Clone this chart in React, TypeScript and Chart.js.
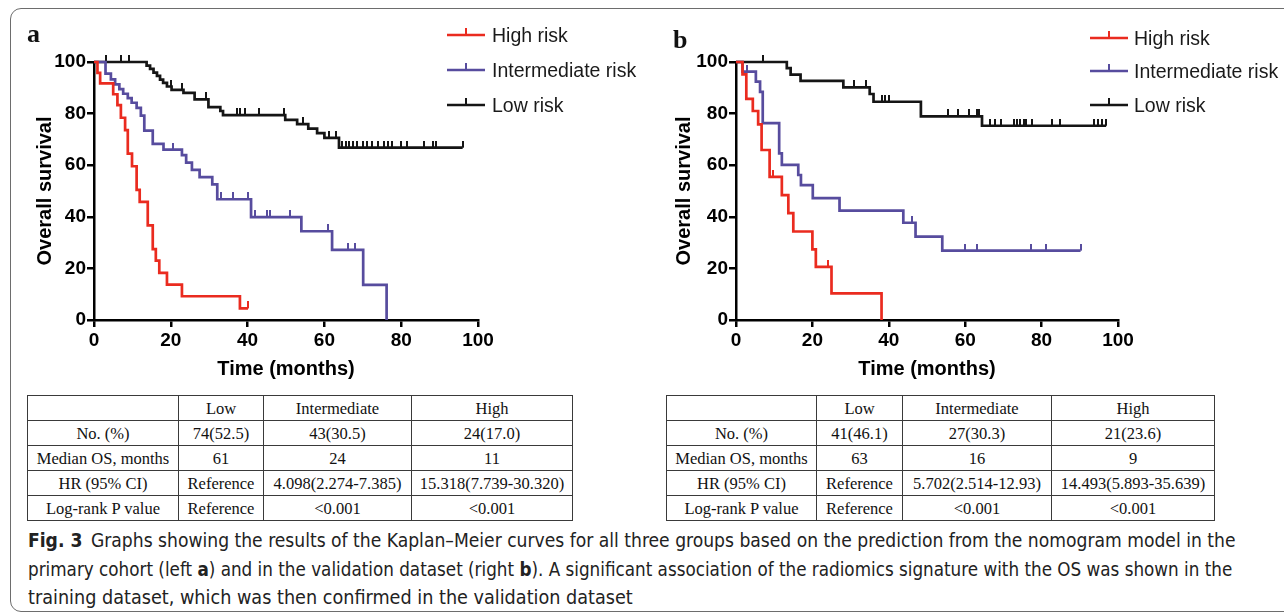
import React, { useEffect, useLayoutEffect, useRef } from "react";
import { Chart, registerables } from "chart.js";

Chart.register(...registerables);

const RED = "#ea2b1f";
const PURPLE = "#574c9e";
const BLACK = "#151515";
const SANS = '"Liberation Sans", Arial, Helvetica, sans-serif';
const SERIF = '"Liberation Serif", "Times New Roman", serif';

const seriesNames = ["High risk", "Intermediate risk", "Low risk"];
const xAxisTitle = "Time (months)";
const yAxisTitle = "Overall survival";

// ---------- Panel a (primary cohort) ----------
const aHighT = [0, 0.9, 1.6, 5.0, 6.1, 7.0, 8.1, 8.8, 9.9, 11.1, 11.9, 14.0, 15.3, 16.1, 17.0, 19.0, 22.9, 38.0, 40.1];
const aHighS = [100, 95.8, 91.7, 87.5, 83.3, 78.4, 73.6, 64.5, 59.6, 50.4, 45.8, 36.7, 27.5, 23.0, 18.3, 13.7, 9.2, 4.5, 4.5];
const aHighCens = [40.1];

const aMidT = [0, 3.0, 4.4, 5.5, 6.6, 7.6, 8.8, 9.8, 11.1, 12.2, 13.1, 15.3, 18.1, 22.9, 24.0, 25.5, 27.5, 30.8, 32.1, 40.9, 54.0, 62.0, 70.1, 76.2];
const aMidS = [100, 95.5, 93.3, 91.3, 89.5, 87.7, 86.0, 84.2, 82.2, 79.2, 73.4, 68.3, 66.0, 63.9, 61.0, 58.2, 55.4, 52.6, 46.8, 39.9, 34.4, 27.2, 13.6, 0];
const aMidCens = [20.7, 33.0, 36.1, 40.0, 41.8, 45.0, 45.9, 51.0, 60.9, 66.1, 67.9];

const aLowT = [0, 13.7, 14.6, 15.5, 16.4, 17.2, 18.0, 19.0, 20.2, 23.3, 26.2, 29.8, 32.9, 33.6, 49.8, 52.9, 55.8, 58.1, 60.0, 63.8, 96.0];
const aLowS = [100, 98.6, 97.3, 95.9, 94.6, 93.2, 91.9, 90.5, 89.2, 88.0, 85.5, 82.5, 81.0, 79.4, 77.6, 75.9, 74.2, 72.4, 70.6, 66.8, 66.8];
const aLowCens = [3.0, 7.0, 9.0, 20.0, 22.9, 29.1, 37.2, 38.1, 39.2, 43.0, 49.4, 54.3, 61.2, 62.9, 64.5, 65.5, 66.5, 67.5, 68.5, 70.0, 71.0, 72.5, 74.0, 75.5, 76.5, 77.7, 80.0, 81.6, 86.0, 88.2, 89.0, 96.0];

// ---------- Panel b (validation dataset) ----------
const bHighT = [0, 1.7, 2.7, 4.4, 5.8, 6.7, 8.8, 12.0, 13.7, 15.0, 20.0, 20.9, 25.0, 38.1];
const bHighS = [100, 95.2, 85.7, 81.0, 75.8, 65.9, 55.5, 48.4, 41.4, 34.3, 27.4, 20.6, 10.3, 0];
const bHighCens = [9.7, 24.2];

const bMidT = [0, 1.7, 5.2, 6.3, 7.0, 11.3, 12.0, 16.3, 17.0, 20.1, 27.1, 43.8, 47.0, 54.0, 90.2];
const bMidS = [100, 96.3, 92.4, 88.4, 76.3, 64.6, 60.1, 56.2, 52.3, 47.2, 42.4, 37.7, 32.3, 26.9, 26.9];
const bMidCens = [2.9, 46.1, 60.0, 63.2, 77.1, 81.2, 90.2];

const bLowT = [0, 13.3, 14.3, 16.9, 28.1, 35.0, 36.0, 48.4, 64.4, 96.9];
const bLowS = [100, 97.6, 95.1, 92.7, 90.2, 87.6, 84.6, 78.9, 75.3, 75.3];
const bLowCens = [7.0, 31.0, 34.0, 38.2, 39.0, 40.0, 55.5, 58.2, 60.9, 63.0, 63.6, 66.6, 67.9, 69.5, 72.8, 73.5, 74.4, 75.3, 76.0, 77.4, 82.8, 84.7, 93.8, 94.7, 95.8, 96.9];

// ---------- Tables ----------
const tableHeader = ["", "Low", "Intermediate", "High"];
const rowLabels = ["No. (%)", "Median OS, months", "HR (95% CI)", "Log-rank P value"];
const aNo = ["74(52.5)", "43(30.5)", "24(17.0)"];
const aMedian = ["61", "24", "11"];
const aHR = ["Reference", "4.098(2.274-7.385)", "15.318(7.739-30.320)"];
const aP = ["Reference", "<0.001", "<0.001"];
const bNo = ["41(46.1)", "27(30.3)", "21(23.6)"];
const bMedian = ["63", "16", "9"];
const bHR = ["Reference", "5.702(2.514-12.93)", "14.493(5.893-35.639)"];
const bP = ["Reference", "<0.001", "<0.001"];

type Series = { name: string; color: string; t: number[]; s: number[]; cens: number[] };

function levelAt(ts: number[], ss: number[], t: number) {
  let v = ss[0];
  for (let i = 0; i < ts.length; i++) if (ts[i] <= t + 1e-9) v = ss[i];
  return v;
}

function tickImage(color: string): HTMLCanvasElement {
  const c = document.createElement("canvas");
  c.width = 2;
  c.height = 14;
  const g = c.getContext("2d")!;
  g.fillStyle = color;
  g.fillRect(0, 0, 2, 7);
  return c;
}

const CH = 390;

function KMChart(props: { series: Series[]; left: number; width: number; padRight: number; yTitlePad: number }) {
  const ref = useRef<HTMLCanvasElement>(null);
  useEffect(() => {
    const datasets: any[] = [];
    props.series.forEach((se) => {
      datasets.push({
        label: se.name,
        data: se.t.map((t, i) => ({ x: t, y: se.s[i] })),
        borderColor: se.color,
        backgroundColor: se.color,
        borderWidth: 2.7,
        stepped: "before",
        pointRadius: 0,
        pointHoverRadius: 0,
        fill: false,
        clip: false,
        borderCapStyle: "butt",
        borderJoinStyle: "miter",
      });
    });
    props.series.forEach((se) => {
      datasets.push({
        label: se.name + " (censored)",
        data: se.cens.map((t) => ({ x: t, y: levelAt(se.t, se.s, t) })),
        showLine: false,
        pointStyle: tickImage(se.color),
        pointRadius: 3,
        pointHoverRadius: 3,
        borderColor: se.color,
        backgroundColor: se.color,
        clip: false,
      });
    });
    const tickFont = { family: SANS, size: 19, weight: "bold" as const };
    const titleFont = { family: SANS, size: 20, weight: "bold" as const };
    const chart = new Chart(ref.current!, {
      type: "line",
      data: { datasets },
      options: {
        animation: false,
        responsive: false,
        events: [],
        layout: { padding: { left: 0, top: 62, right: props.padRight, bottom: 0 } },
        plugins: { legend: { display: false }, tooltip: { enabled: false } },
        scales: {
          x: {
            type: "linear",
            min: 0,
            max: 100,
            ticks: { stepSize: 20, color: "#000", font: tickFont, padding: 2, maxRotation: 0 },
            grid: { display: true, drawOnChartArea: false, drawTicks: true, tickLength: 7, color: "#000", lineWidth: 2.5 },
            border: { display: true, color: "#000", width: 2.5 },
            title: { display: true, text: xAxisTitle, color: "#000", font: titleFont, padding: { top: 0, bottom: 9 } },
            afterFit: (s: any) => {
              s.height = 70;
            },
          },
          y: {
            type: "linear",
            min: 0,
            max: 100,
            ticks: { stepSize: 20, color: "#000", font: tickFont, padding: 1 },
            grid: { display: true, drawOnChartArea: false, drawTicks: true, tickLength: 7, color: "#000", lineWidth: 2.5 },
            border: { display: true, color: "#000", width: 2.5 },
            title: { display: true, text: yAxisTitle, color: "#000", font: titleFont, padding: { top: props.yTitlePad, bottom: 0 } },
            afterFit: (s: any) => {
              s.width = 94;
            },
          },
        },
      } as any,
    });
    return () => chart.destroy();
  }, []);
  return (
    <canvas
      ref={ref}
      width={props.width}
      height={CH}
      style={{ position: "absolute", left: props.left, top: 0, width: props.width, height: CH }}
    />
  );
}

function Legend(props: { symLeft: number; textLeft: number; rows: number[]; colors: string[] }) {
  return (
    <>
      {seriesNames.map((n, i) => (
        <div key={n} style={{ position: "absolute", top: props.rows[i] - 12, left: 0, height: 24 }}>
          <svg width={38} height={24} style={{ position: "absolute", left: props.symLeft, top: 0 }}>
            <line x1={0} y1={12} x2={38} y2={12} stroke={props.colors[i]} strokeWidth={2.7} />
            <line x1={19} y1={5} x2={19} y2={12} stroke={props.colors[i]} strokeWidth={2} />
          </svg>
          <div
            style={{
              position: "absolute",
              left: props.textLeft,
              top: 0,
              height: 24,
              lineHeight: "24px",
              fontFamily: SANS,
              fontSize: 19.5,
              color: "#1a1a1a",
              whiteSpace: "nowrap",
            }}
          >
            {n}
          </div>
        </div>
      ))}
    </>
  );
}

function DataTable(props: { left: number; widths: number[]; rows: string[][] }) {
  const all = [tableHeader, ...props.rows];
  return (
    <table
      style={{
        position: "absolute",
        left: props.left,
        top: 395,
        borderCollapse: "collapse",
        tableLayout: "fixed",
        width: props.widths.reduce((a, b) => a + b, 0),
        fontFamily: SERIF,
        fontSize: 16.5,
        color: "#111",
      }}
    >
      <colgroup>
        {props.widths.map((w, i) => (
          <col key={i} style={{ width: w }} />
        ))}
      </colgroup>
      <tbody>
        {all.map((r, ri) => (
          <tr key={ri} style={{ height: 25 }}>
            {r.map((c, ci) => (
              <td
                key={ci}
                style={{
                  border: "1px solid #3a3a3a",
                  padding: 0,
                  textAlign: "center",
                  verticalAlign: "middle",
                  lineHeight: "23px",
                  whiteSpace: "nowrap",
                }}
              >
                {c}
              </td>
            ))}
          </tr>
        ))}
      </tbody>
    </table>
  );
}

function FitLine(props: { top: number; width: number; children: React.ReactNode }) {
  const ref = useRef<HTMLDivElement>(null);
  useLayoutEffect(() => {
    const fit = () => {
      const el = ref.current;
      if (!el) return;
      el.style.transform = "none";
      const w = el.offsetWidth;
      if (w > 0) el.style.transform = `scaleX(${props.width / w})`;
    };
    fit();
    if ((document as any).fonts && (document as any).fonts.ready) (document as any).fonts.ready.then(fit);
  }, []);
  return (
    <div
      ref={ref}
      style={{
        position: "absolute",
        left: 28,
        top: props.top,
        display: "inline-block",
        whiteSpace: "nowrap",
        transformOrigin: "0 0",
        fontFamily: '"Liberation Sans Narrow", "DejaVu Sans Condensed", "Liberation Sans", Arial, sans-serif',
        fontSize: 19,
        lineHeight: "20px",
        color: "#222",
      }}
    >
      {props.children}
    </div>
  );
}

export default function App() {
  const seriesA: Series[] = [
    { name: seriesNames[0], color: RED, t: aHighT, s: aHighS, cens: aHighCens },
    { name: seriesNames[1], color: PURPLE, t: aMidT, s: aMidS, cens: aMidCens },
    { name: seriesNames[2], color: BLACK, t: aLowT, s: aLowS, cens: aLowCens },
  ];
  const seriesB: Series[] = [
    { name: seriesNames[0], color: RED, t: bHighT, s: bHighS, cens: bHighCens },
    { name: seriesNames[1], color: PURPLE, t: bMidT, s: bMidS, cens: bMidCens },
    { name: seriesNames[2], color: BLACK, t: bLowT, s: bLowS, cens: bLowCens },
  ];
  const colors = [RED, PURPLE, BLACK];
  return (
    <div style={{ position: "fixed", left: 0, top: 0, width: 1284, height: 613, overflow: "hidden", background: "#fff" }}>
      <div
        style={{
          position: "absolute",
          left: 10,
          top: 8,
          width: 1320,
          height: 604,
          border: "1.5px solid #6d6d6d",
          borderRadius: 11,
          boxSizing: "border-box",
        }}
      />
      <KMChart series={seriesA} left={0} width={640} padRight={162} yTitlePad={33.5} />
      <KMChart series={seriesB} left={642} width={642} padRight={166} yTitlePad={30.5} />
      <div style={{ position: "absolute", left: 27, top: 21, fontFamily: SERIF, fontWeight: "bold", fontSize: 26, lineHeight: "26px", color: "#111" }}>a</div>
      <div style={{ position: "absolute", left: 673, top: 27, fontFamily: SERIF, fontWeight: "bold", fontSize: 26, lineHeight: "26px", color: "#111" }}>b</div>
      <Legend symLeft={447} textLeft={492} rows={[35, 70, 105]} colors={colors} />
      <Legend symLeft={1090} textLeft={1134} rows={[38, 71, 105]} colors={colors} />
      <DataTable
        left={27}
        widths={[151, 85, 148, 161]}
        rows={[
          [rowLabels[0], ...aNo],
          [rowLabels[1], ...aMedian],
          [rowLabels[2], ...aHR],
          [rowLabels[3], ...aP],
        ]}
      />
      <DataTable
        left={666}
        widths={[150, 86, 149, 163]}
        rows={[
          [rowLabels[0], ...bNo],
          [rowLabels[1], ...bMedian],
          [rowLabels[2], ...bHR],
          [rowLabels[3], ...bP],
        ]}
      />
      <FitLine top={530} width={1207}>
        <b>Fig. 3</b>
        {"\u2002Graphs showing the results of the Kaplan\u2013Meier curves for all three groups based on the prediction from the nomogram model in the"}
      </FitLine>
      <FitLine top={558.5} width={1204}>
        {"primary cohort (left "}
        <b>a</b>
        {") and in the validation dataset (right "}
        <b>b</b>
        {"). A significant association of the radiomics signature with the OS was shown in the"}
      </FitLine>
      <FitLine top={587} width={605}>
        {"training dataset, which was then confirmed in the validation dataset"}
      </FitLine>
    </div>
  );
}
